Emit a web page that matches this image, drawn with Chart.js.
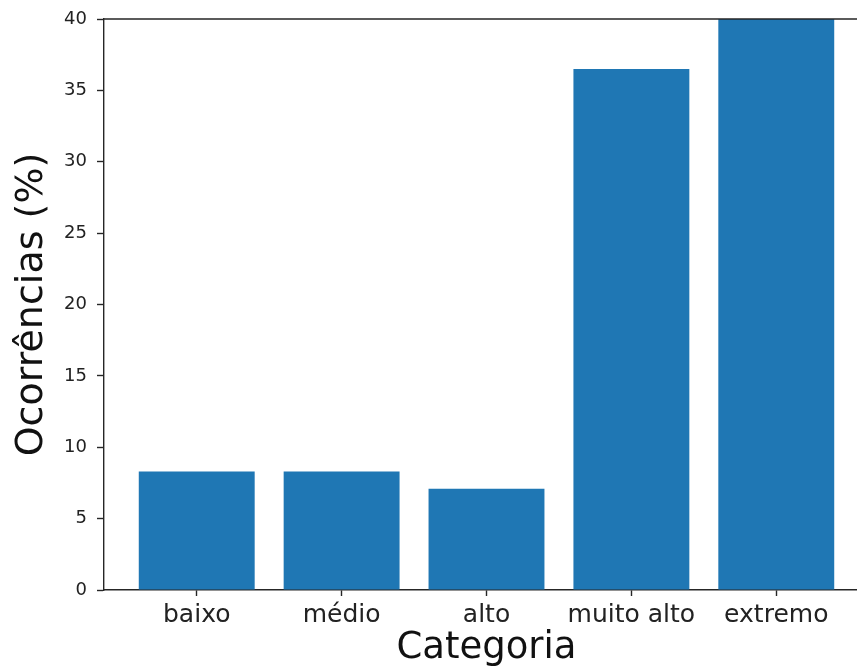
<!DOCTYPE html>
<html>
<head>
<meta charset="utf-8">
<script src="https://cdn.jsdelivr.net/npm/chart.js@4"></script>
<style>
  html, body { margin: 0; padding: 0; background: #fff; overflow: hidden; }
  canvas { display: block; }
</style>
</head>
<body>
<canvas id="barChart" width="870" height="671"></canvas>
<script>
// dados
const categorias = ['baixo', 'médio', 'alto', 'muito alto', 'extremo'];
const ocorrencias = [8.3, 8.3, 7.1, 36.5, 40.0];
const yTicks = [0, 5, 10, 15, 20, 25, 30, 35, 40];

const AXIS = '#262626';
const FONT = "'DejaVu Sans', sans-serif";

// linha de cima (spine) como no matplotlib
const topSpine = {
    id: 'topSpine',
    afterDraw(chart) {
        const a = chart.chartArea;
        const c = chart.ctx;
        c.save();
        c.strokeStyle = AXIS;
        c.lineWidth = 1.4;
        c.beginPath();
        c.moveTo(a.left - 0.7, a.top);
        c.lineTo(a.right, a.top);
        c.moveTo(a.right, a.top);
        c.lineTo(a.right, a.bottom);
        c.stroke();
        c.restore();
    }
};

const ctx = document.getElementById('barChart');

new Chart(ctx, {
    type: 'bar',
    data: {
        datasets: [{
            data: ocorrencias.map((v, i) => ({ x: i, y: v })),
            backgroundColor: '#1f77b4',
            borderWidth: 0,
            barPercentage: 0.8,
            categoryPercentage: 1.0
        }]
    },
    options: {
        responsive: false,
        animation: false,
        devicePixelRatio: 1,
        layout: { padding: { top: 19, right: 1, bottom: 0, left: 0 } },
        plugins: {
            legend: { display: false },
            tooltip: { enabled: false }
        },
        scales: {
            x: {
                type: 'linear',
                offset: false,
                min: -0.64,
                max: 4.64,
                afterBuildTicks: function(scale) {
                    scale.ticks = categorias.map((_, i) => ({ value: i }));
                },
                afterFit: function(scale) {
                    scale.height = 81;
                },
                grid: {
                    offset: false,
                    drawOnChartArea: false,
                    drawTicks: true,
                    tickLength: 6,
                    tickWidth: 1.4,
                    tickColor: AXIS
                },
                border: { display: true, color: AXIS, width: 1.4 },
                ticks: {
                    autoSkip: false,
                    maxRotation: 0,
                    padding: 4,
                    color: '#222',
                    font: { family: FONT, size: 25 },
                    callback: function(value) {
                        return categorias[value];
                    }
                },
                title: {
                    display: true,
                    text: 'Categoria',
                    color: '#111',
                    font: { family: FONT, size: 37 },
                    padding: { top: 0, bottom: 0 }
                }
            },
            y: {
                min: 0,
                max: 40,
                afterBuildTicks: function(scale) {
                    scale.ticks = yTicks.map(v => ({ value: v }));
                },
                afterFit: function(scale) {
                    scale.width = 104;
                },
                grid: {
                    drawOnChartArea: false,
                    drawTicks: true,
                    tickLength: 7,
                    tickWidth: 1.4,
                    tickColor: AXIS
                },
                border: { display: true, color: AXIS, width: 1.4 },
                ticks: {
                    padding: 10,
                    color: '#222',
                    font: { family: FONT, size: 18, lineHeight: 1.0 }
                },
                title: {
                    display: true,
                    text: 'Ocorrências (%)',
                    color: '#111',
                    font: { family: FONT, size: 38 },
                    padding: { top: 9, bottom: 0 }
                }
            }
        }
    },
    plugins: [topSpine]
});
</script>
</body>
</html>
